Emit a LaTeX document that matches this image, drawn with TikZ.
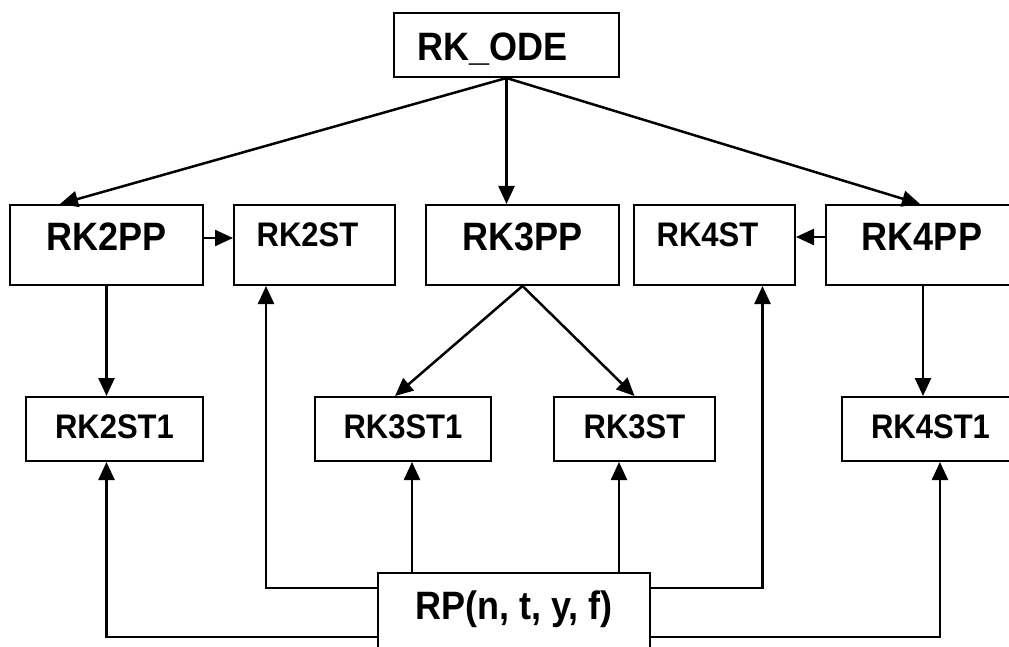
\documentclass[tikz,border=0pt]{standalone}
\usepackage{fontspec}
\usepackage{graphicx}
\setmainfont{Liberation Sans}
\usetikzlibrary{arrows.meta,calc}
\newcommand{\tall}[1]{\scalebox{1}[1.1]{#1}}
\tikzset{
  rkbox/.style={draw,line width=2pt,inner sep=0pt},
  odebox/.style={rkbox,minimum width=225pt,minimum height=64pt,font=\fontsize{36}{40}\selectfont\bfseries,text height=31pt,text depth=0pt,execute at end node={\hspace*{28pt}}},
  ppbox/.style={rkbox,minimum width=193pt,minimum height=80pt,font=\fontsize{36}{40}\selectfont\bfseries,text height=26pt,text depth=15pt},
  stbox/.style={rkbox,minimum width=161pt,minimum height=80pt,font=\fontsize{31}{34}\selectfont\bfseries,text height=22pt,text depth=20pt,execute at end node={\hspace*{14pt}}},
  sobox/.style={rkbox,minimum height=64pt,font=\fontsize{31}{34}\selectfont\bfseries,text height=22pt,text depth=4pt},
  rpbox/.style={rkbox,minimum width=272pt,minimum height=100pt,font=\fontsize{36}{40}\selectfont\bfseries,text height=26pt,text depth=34pt},
  arr/.style={-{Triangle[length=18pt,width=16pt]},line width=2.5pt},
}
\begin{document}
\begin{tikzpicture}[x=1pt,y=-1pt]
  \useasboundingbox (0,0) rectangle (1009,647);
  \node[odebox] (ode) at (506.5,45) {\tall{RK\_ODE}};
  \node[ppbox] (p2) at (106.5,245) {\tall{RK2PP}};
  \node[stbox] (s2) at (314.5,245) {\tall{RK2ST}};
  \node[ppbox] (p3) at (522.5,245) {\tall{RK3PP}};
  \node[stbox] (s4) at (714.5,245) {\tall{RK4ST}};
  \node[ppbox] (p4) at (922,245) {\tall{RK4PP}};
  \node[sobox,minimum width=177pt] (s21) at (114.5,429) {\tall{RK2ST1}};
  \node[sobox,minimum width=176pt] (s31) at (403,429) {\tall{RK3ST1}};
  \node[sobox,minimum width=161pt] (s3) at (634.5,429) {\tall{RK3ST}};
  \node[sobox,minimum width=177pt] (s41) at (930.5,429) {\tall{RK4ST1}};
  \node[rpbox] (rp) at (514,623) {\tall{RP(n, t, y, f)}};
  % from the driver
  \draw[arr] (ode.south) -- ([xshift=-46.5pt]p2.north);
  \draw[arr] (ode.south) -- (ode.south |- p3.north);
  \draw[arr] (ode.south) -- ([xshift=-2pt]p4.north);
  \draw[arr] ([yshift=7pt]p2.east) -- ([yshift=7pt]s2.west);
  \draw[arr] ([yshift=8pt]p4.west) -- ([yshift=8pt]s4.east);
  \draw[arr] (p2.south) -- (p2.south |- s21.north);
  \draw[arr] ([xshift=1pt]p4.south) -- ([xshift=1pt]p4.south |- s41.north);
  \draw[arr] (p3.south) -- ([xshift=-8pt]s31.north);
  \draw[arr] (p3.south) -- (s3.north);
  % from RP
  \draw[arr] ([xshift=9pt]s31.south |- rp.north) -- ([xshift=9pt]s31.south);
  \draw[arr] ([xshift=-15.5pt]s3.south |- rp.north) -- ([xshift=-15.5pt]s3.south);
  \draw[arr] ([yshift=-16pt]rp.north west) -| ([xshift=-48.5pt]s2.south);
  \draw[arr] ([yshift=-16pt]rp.north east) -| ([xshift=48pt]s4.south);
  \draw[arr] ([yshift=-65pt]rp.north west) -| (p2.south |- s21.south);
  \draw[arr] ([yshift=-65pt]rp.north east) -| ([xshift=9.5pt]s41.south);
\end{tikzpicture}
\end{document}
